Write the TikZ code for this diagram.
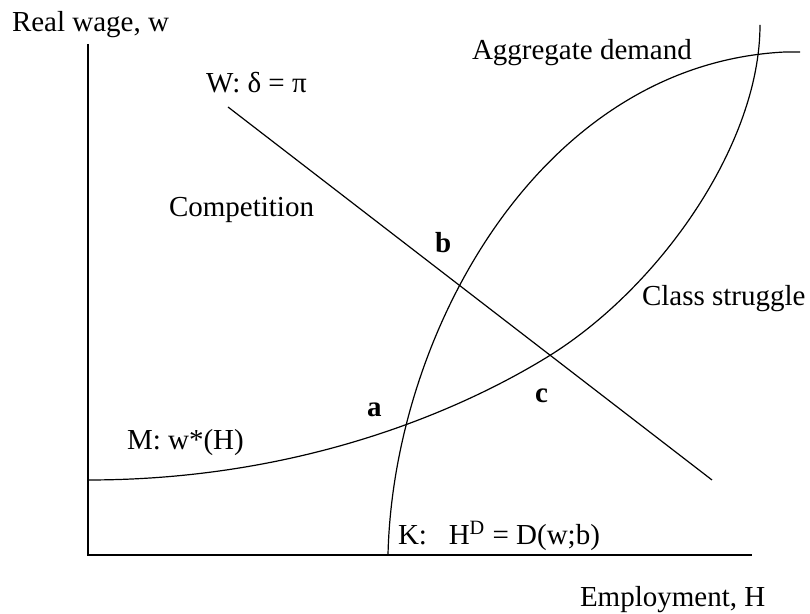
\documentclass[tikz,border=0pt]{standalone}
\usepackage{fontspec}
\setmainfont{Liberation Serif}
\usepackage{tikz}

\begin{document}
\begin{tikzpicture}[x=0.5pt,y=0.5pt]
\definecolor{drawColor}{RGB}{0,0,0}
\definecolor{fillColor}{RGB}{255,255,255}
\tikzset{
  axisline/.style={draw=drawColor,line width=0.8pt},
  curveline/.style={draw=drawColor,line width=0.6pt,line join=round},
  lbl/.style={text=drawColor,anchor=base west,inner sep=0pt,outer sep=0pt,font=\fontsize{14.5}{17}\selectfont}
}
\path[use as bounding box,fill=fillColor] (0,0) rectangle (810,614);

\path[axisline] ( 88,570) --
	( 88, 59) --
	(752, 59);

\path[curveline] (228,507) --
	(712,134);

\path[curveline] (388, 59) ..
	controls (393,280) and (540,550) .. (785,562) --
	(800,562);

\path[curveline] ( 88,134) ..
	controls (300,134) and (460,203) .. (549,258) ..
	controls (660,327) and (760,470) .. (760,589);

\node[lbl] (wagelbl) at ( 12,582) {Real wage, w};
\node[lbl] (emplbl) at (580,  7) {Employment, H};
\node[lbl] (wlbl) at (206,521) {W: δ = π};
\node[lbl] (adlbl) at (472,554) {Aggregate demand};
\node[lbl] (cslbl) at (642,308) {Class struggle};
\node[lbl] (complbl) at (169,397) {Competition};
\node[lbl] (mlbl) at (127,164) {M: w*(H)};
\node[lbl] (klbl) at (398, 69) {K:\ \ \ H\textsuperscript{D} = D(w;b)};
\node[lbl] (pta) at (367,197) {\textbf{a}};
\node[lbl] (ptb) at (435,361) {\textbf{b}};
\node[lbl] (ptc) at (535,211) {\textbf{c}};
\end{tikzpicture}
\end{document}
